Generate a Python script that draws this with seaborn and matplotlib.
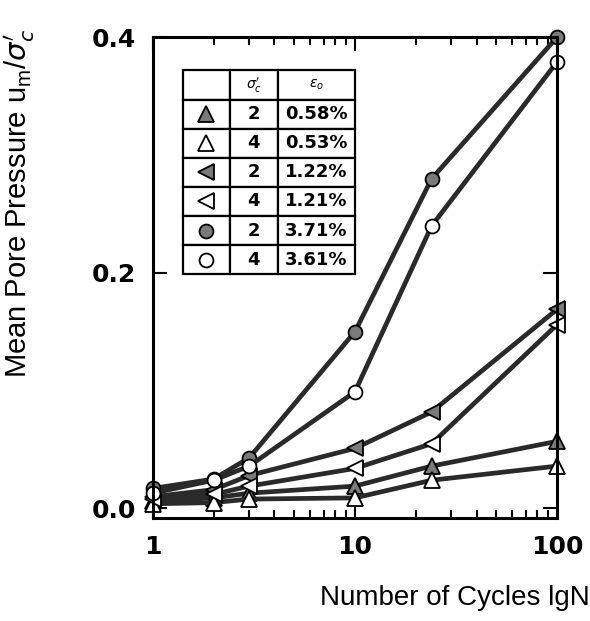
import numpy as np
import pandas as pd
import matplotlib
matplotlib.use("Agg")
import matplotlib.pyplot as plt
import seaborn as sns

# values
cycles = [1, 2, 3, 10, 24, 100]
sigma_c = ["2", "4", "2", "4", "2", "4"]
eps0 = ["0.58%", "0.53%", "1.22%", "1.21%", "3.71%", "3.61%"]
u_tri_up_2 = [0.006, 0.009, 0.013, 0.019, 0.036, 0.057]
u_tri_up_4 = [0.004, 0.005, 0.008, 0.009, 0.024, 0.036]
u_tri_left_2 = [0.010, 0.016, 0.028, 0.051, 0.082, 0.169]
u_tri_left_4 = [0.008, 0.012, 0.019, 0.034, 0.055, 0.156]
u_circ_2 = [0.017, 0.025, 0.043, 0.150, 0.280, 0.400]
u_circ_4 = [0.013, 0.024, 0.036, 0.099, 0.240, 0.379]

series = [
    (u_tri_up_2, "^", "#7a7a7a", 12),
    (u_tri_up_4, "^", "white", 12),
    (u_tri_left_2, "<", "#7a7a7a", 12),
    (u_tri_left_4, "<", "white", 12),
    (u_circ_2, "o", "#7a7a7a", 10),
    (u_circ_4, "o", "white", 10),
]

sns.set_theme(style="ticks")
plt.rcParams["font.family"] = ["Liberation Sans", "DejaVu Sans"]
plt.rcParams["mathtext.fontset"] = "dejavusans"
for key in ["text.color", "axes.labelcolor", "xtick.color", "ytick.color"]:
    plt.rcParams[key] = "black"

fig = plt.figure(figsize=(5.9, 6.21), dpi=100)
ax = fig.add_axes([0.259, 0.166, 0.685, 0.774])

for vals, mk, fc, ms in series:
    df = pd.DataFrame({"N": cycles, "u": vals})
    sns.lineplot(data=df, x="N", y="u", ax=ax, color="#2a2a2a", lw=3.4,
                 marker=mk, markersize=ms, markerfacecolor=fc,
                 markeredgecolor="black", markeredgewidth=1.3, clip_on=False)

ax.set_xscale("log")
ax.set_xlim(1, 100)
ax.set_ylim(-0.008, 0.4)
ax.set_xticks([1, 10, 100])
ax.set_xticklabels(["1", "10", "100"])
ax.set_yticks([0.0, 0.2, 0.4])
ax.set_yticklabels(["0.0", "0.2", "0.4"])
ax.tick_params(which="both", direction="in", top=True, right=True, width=1.5,
               color="black")
ax.tick_params(which="major", length=10, labelsize=18)
ax.tick_params(axis="x", which="major", pad=12)
ax.tick_params(axis="y", which="major", pad=12)
ax.tick_params(which="minor", length=6)
for lab in ax.get_xticklabels() + ax.get_yticklabels():
    lab.set_fontweight("bold")
    lab.set_family("DejaVu Sans")
for sp in ax.spines.values():
    sp.set_linewidth(2.2)
    sp.set_color("black")

ax.set_xlabel("Number of Cycles lgN", fontsize=20)
ax.xaxis.set_label_coords(0.748, -0.139)
ax.set_ylabel(r"Mean Pore Pressure u$_\mathregular{m}$/$\sigma_c'$", fontsize=21)
ax.yaxis.set_label_coords(-0.285, 0.655)

# legend table
x0, w = 0.074, 0.426
y0, h = 0.507, 0.424
col_w = [0.273, 0.279, 0.448]
cells = [["", r"$\sigma_c'$", r"$\varepsilon_o$"]] + [["", s, e] for s, e in zip(sigma_c, eps0)]
tab = ax.table(cellText=cells, bbox=[x0, y0, w, h], colWidths=col_w,
               cellLoc="center", zorder=5)
tab.auto_set_font_size(False)
for (r, c), cell in tab.get_celld().items():
    cell.set_linewidth(1.6)
    cell.set_edgecolor("black")
    cell.set_facecolor("white")
    if r == 0:
        cell.set_text_props(fontsize=10)
    else:
        cell.set_text_props(fontsize=13, fontweight="bold", family="DejaVu Sans")
        if c == 2:
            cell._loc = "left"
            cell.PAD = 0.02

row_h = h / 7
for i, (vals, mk, fc, ms) in enumerate(series):
    yc = y0 + h - row_h * (i + 1.5)
    ax.plot([x0 + w * col_w[0] / 2], [yc], marker=mk, markersize=ms,
            markerfacecolor=fc, markeredgecolor="black", markeredgewidth=1.3,
            transform=ax.transAxes, zorder=6, clip_on=False, ls="none")

fig.savefig("out.png", dpi=100)
